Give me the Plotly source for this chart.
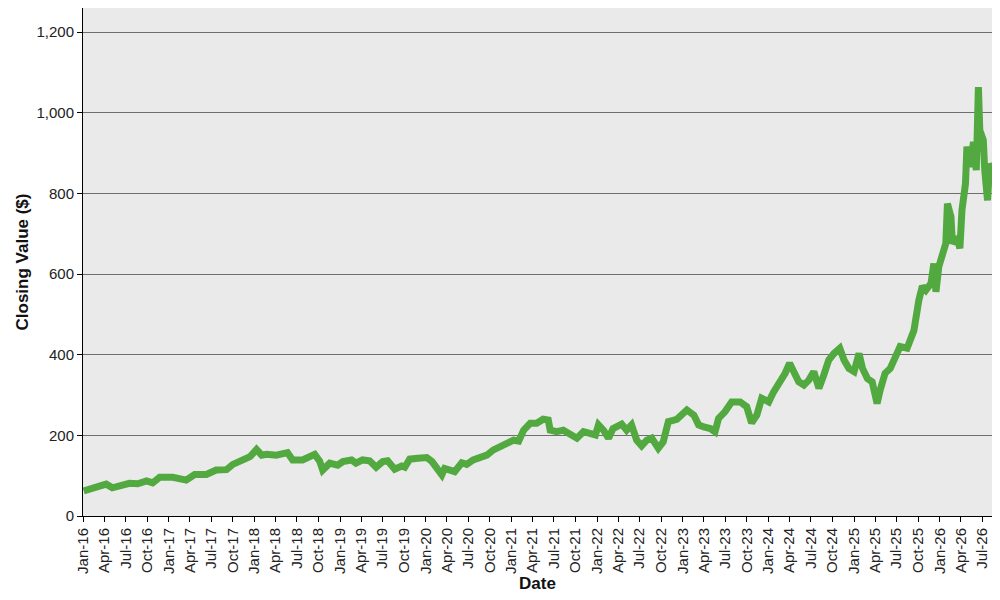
import plotly.graph_objects as go

# closing values
dates = [
    "2016-01-04", "2016-02-12", "2016-03-10", "2016-04-09", "2016-05-05", "2016-06-05",
    "2016-07-17", "2016-08-21", "2016-09-28", "2016-10-24", "2016-11-23", "2017-01-18",
    "2017-03-16", "2017-04-21", "2017-06-10", "2017-07-22", "2017-09-04", "2017-10-01",
    "2017-11-13", "2017-12-13", "2018-01-10", "2018-02-01", "2018-02-22", "2018-04-04",
    "2018-05-22", "2018-06-13", "2018-07-25", "2018-09-15", "2018-10-06", "2018-10-19",
    "2018-11-18", "2018-12-22", "2019-01-13", "2019-02-19", "2019-03-10", "2019-04-07",
    "2019-05-07", "2019-06-04", "2019-07-02", "2019-07-23", "2019-08-22", "2019-09-21",
    "2019-10-04", "2019-10-25", "2019-11-29", "2020-01-06", "2020-01-28", "2020-02-18",
    "2020-03-10", "2020-03-22", "2020-04-13", "2020-05-04", "2020-06-03", "2020-06-24",
    "2020-07-22", "2020-08-19", "2020-09-18", "2020-10-16", "2020-11-13", "2020-12-13",
    "2021-01-10", "2021-02-01", "2021-02-22", "2021-03-22", "2021-04-19", "2021-05-16",
    "2021-06-07", "2021-06-15", "2021-07-13", "2021-08-10", "2021-09-09", "2021-10-07",
    "2021-11-04", "2021-12-04", "2021-12-25", "2022-01-07", "2022-01-28", "2022-02-19",
    "2022-03-10", "2022-04-16", "2022-05-07", "2022-05-28", "2022-06-19", "2022-07-10",
    "2022-08-01", "2022-08-22", "2022-09-19", "2022-10-10", "2022-11-01", "2022-12-07",
    "2023-01-19", "2023-02-18", "2023-03-10", "2023-04-01", "2023-04-29", "2023-05-19",
    "2023-06-03", "2023-07-01", "2023-07-29", "2023-09-03", "2023-10-01", "2023-10-22",
    "2023-11-13", "2023-12-04", "2024-01-03", "2024-01-24", "2024-02-21", "2024-03-13",
    "2024-04-01", "2024-04-19", "2024-05-10", "2024-06-01", "2024-06-22", "2024-07-13",
    "2024-08-04", "2024-08-25", "2024-09-15", "2024-10-07", "2024-11-01", "2024-11-19",
    "2024-12-10", "2025-01-01", "2025-01-22", "2025-02-06", "2025-02-27", "2025-03-19",
    "2025-04-09", "2025-04-22", "2025-05-13", "2025-06-04", "2025-06-25", "2025-07-16",
    "2025-08-15", "2025-09-13", "2025-10-04", "2025-10-19", "2025-11-03", "2025-11-25",
    "2025-12-07", "2025-12-16", "2025-12-28", "2026-01-12", "2026-01-27", "2026-02-03",
    "2026-02-18", "2026-02-24", "2026-03-16", "2026-03-28", "2026-04-06", "2026-04-21",
    "2026-04-27", "2026-05-12", "2026-05-25", "2026-06-06", "2026-06-15", "2026-06-21",
    "2026-07-06", "2026-07-12", "2026-07-24", "2026-08-02", "2026-08-12",
]
closing = [
    62, 69, 74, 79, 70, 74,
    81, 80, 87, 82, 96, 96,
    89, 103, 103, 114, 115, 128,
    137, 147, 165, 151, 153, 151,
    157, 139, 139, 153, 136, 114,
    131, 126, 135, 139, 131, 139,
    137, 121, 135, 137, 116, 124,
    121, 141, 143, 145, 135, 121,
    102, 118, 116, 110, 132, 128,
    139, 143, 151, 164, 172, 180,
    188, 186, 213, 230, 230, 240,
    238, 213, 209, 213, 201, 193,
    209, 203, 201, 226, 213, 193,
    217, 228, 213, 226, 188, 174,
    188, 193, 168, 184, 234, 240,
    263, 250, 226, 221, 217, 209,
    242, 259, 283, 283, 271, 231,
    250, 292, 283, 308, 333, 354,
    379, 354, 333, 325, 337, 358,
    317, 350, 387, 403, 416, 387,
    366, 358, 403, 366, 341, 333,
    279, 312, 354, 366, 395, 420,
    416, 460, 535, 570, 560, 577,
    626, 556, 618, 643, 676, 775,
    742, 676, 692, 664, 759, 825,
    916, 866, 928, 858, 1064, 957,
    932, 858, 783, 874, 858,
]

fig = go.Figure()
fig.add_trace(go.Scatter(x=dates, y=closing, mode="lines",
                         line=dict(color="#52a93f", width=7)))

axis_font = dict(family="Liberation Sans, Arial, sans-serif", size=15, color="#222222")
title_font = dict(family="Liberation Sans, Arial, sans-serif", size=17, color="#111111")

# page body adds an 8px margin, so margins are trimmed by that much
fig.update_layout(
    width=1000, height=600,
    margin=dict(l=75, r=16, t=0, b=92),
    paper_bgcolor="white",
    plot_bgcolor="#eaeaea",
    showlegend=False,
    xaxis=dict(
        type="date", automargin=False,
        range=["2016-01-01", "2026-08-12"],
        tick0="2016-01-01", dtick="M3", tickformat="%b-%y",
        tickangle=-90, tickfont=axis_font,
        ticks="outside", ticklen=5, tickcolor="black",
        showgrid=False, showline=True, linecolor="black", linewidth=1, mirror=True,
        title=dict(text="<b>Date</b>", font=title_font, standoff=2),
    ),
    yaxis=dict(
        range=[0, 1260], dtick=200, tickformat=",d", automargin=False,
        tickfont=axis_font,
        ticks="outside", ticklen=5, tickcolor="black",
        showgrid=True, gridcolor="#6e6e6e", gridwidth=1, zeroline=False,
        showline=True, linecolor="black", linewidth=1, mirror=True,
        title=dict(text="<b>Closing Value ($)</b>", font=title_font, standoff=3),
    ),
)

fig.write_html("out.html")
